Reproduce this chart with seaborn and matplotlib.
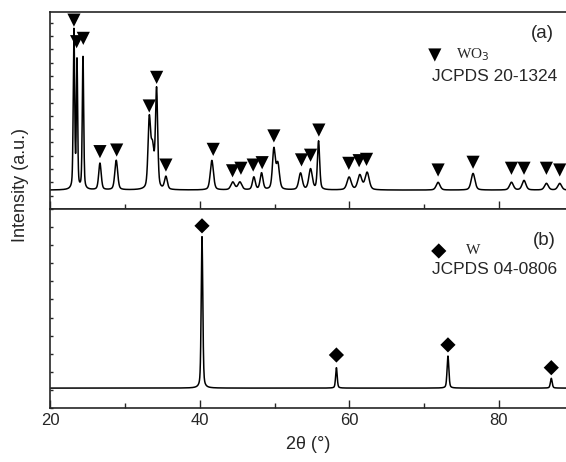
import numpy as np
import pandas as pd
import matplotlib
matplotlib.use("Agg")
import matplotlib.pyplot as plt
from matplotlib.ticker import MultipleLocator
import seaborn as sns

# (a) WO3 pattern: peak centres (2theta), heights above baseline, widths (FWHM)
wo3_pos = [23.14, 23.55, 24.35, 26.62, 28.8, 33.22, 33.65, 34.2, 35.45, 41.6,
           44.4, 45.35, 47.22, 48.25, 49.9, 50.43, 53.47, 54.81, 55.88, 59.97,
           61.4, 62.38, 71.88, 76.56, 81.7, 83.38, 86.38, 88.16]
wo3_height = [1190, 960, 1000, 200, 222, 500, 300, 740, 95, 222,
              58, 58, 95, 125, 300, 190, 125, 155, 365, 95,
              110, 130, 58, 125, 58, 72, 50, 50]
wo3_width = [0.22, 0.2, 0.22, 0.4, 0.45, 0.4, 0.5, 0.35, 0.45, 0.5,
             0.6, 0.6, 0.45, 0.45, 0.45, 0.5, 0.55, 0.55, 0.35, 0.65,
             0.65, 0.65, 0.6, 0.6, 0.6, 0.6, 0.6, 0.6]
wo3_base = 142

# triangle markers above the WO3 reflections
wo3_mark_pos = [23.14, 23.5, 24.39, 26.62, 28.86, 33.22, 34.21, 35.45, 41.78, 44.37,
                45.49, 47.13, 48.33, 49.9, 53.6, 54.81, 55.92, 59.93, 61.31, 62.3,
                71.88, 76.56, 81.7, 83.38, 86.38, 88.16]
wo3_mark_y = [1419, 1257, 1282, 431, 443, 774, 989, 330, 448, 287,
              306, 330, 348, 549, 369, 404, 593, 343, 363, 373,
              293, 351, 306, 306, 306, 293]

# (b) W pattern
w_pos = [40.28, 58.27, 73.2, 87.03]
w_height = [837, 113, 177, 54]
w_width = [0.25, 0.25, 0.28, 0.28]
w_base = 110
w_mark_y = [1007, 293, 349, 223]

x = np.arange(20, 89.01, 0.02)


def pattern(pos, height, width, base):
    y = np.full_like(x, float(base))
    for p, h, w in zip(pos, height, width):
        g = np.exp(-4 * np.log(2) * ((x - p) / w) ** 2)
        lo = 1 / (1 + 4 * ((x - p) / w) ** 2)
        y += h * (0.6 * g + 0.4 * lo)
    return y


df_a = pd.DataFrame({"two_theta": x, "intensity": pattern(wo3_pos, wo3_height, wo3_width, wo3_base)})
df_b = pd.DataFrame({"two_theta": x, "intensity": pattern(w_pos, w_height, w_width, w_base)})

sns.set_style("ticks")
plt.rcParams["font.family"] = ["Liberation Sans", "DejaVu Sans"]
plt.rcParams["axes.linewidth"] = 1.2

fig = plt.figure(figsize=(5.66, 4.62), dpi=100)
ax1 = fig.add_axes([0.0892, 0.5476, 0.9108, 0.4264])
ax2 = fig.add_axes([0.0892, 0.1169, 0.9108, 0.4307])

sns.lineplot(data=df_a, x="two_theta", y="intensity", ax=ax1, color="black",
             linewidth=1.1, estimator=None)
sns.lineplot(data=df_b, x="two_theta", y="intensity", ax=ax2, color="black",
             linewidth=1.1, estimator=None)

sns.scatterplot(x=wo3_mark_pos, y=wo3_mark_y, ax=ax1, marker="v", s=90,
                color="black", edgecolor="none", clip_on=False, zorder=5)
sns.scatterplot(x=w_pos, y=w_mark_y, ax=ax2, marker="D", s=60,
                color="black", edgecolor="none", clip_on=False, zorder=5)

for ax, top in [(ax1, 1480), (ax2, 1100)]:
    ax.set_xlim(20, 89)
    ax.set_ylim(0, top)
    ax.spines["right"].set_visible(False)
    ax.spines["top"].set_visible(True)
    ax.xaxis.set_major_locator(MultipleLocator(20))
    ax.xaxis.set_minor_locator(MultipleLocator(10))
    ax.yaxis.set_major_locator(MultipleLocator(100))
    ax.tick_params(axis="x", which="major", direction="in", length=6, width=1, labelsize=12)
    ax.tick_params(axis="x", which="minor", direction="in", length=3.5, width=1)
    ax.tick_params(axis="y", which="major", direction="in", length=2.5, width=1, labelleft=False)
    ax.set_xlabel("")
    ax.set_ylabel("")

ax1.tick_params(axis="x", labelbottom=False)

# panel annotations
ax1.text(85.9, 1322, "(a)", fontsize=13.5, ha="center", va="center")
ax1.scatter([71.44], [1157], marker="v", s=90, color="black", edgecolor="none")
ax1.text(74.3, 1157, "WO$_3$", fontsize=11, family="Liberation Serif", va="center")
ax1.text(71.0, 992, "JCPDS 20-1324", fontsize=12.5, va="center")

ax2.text(86.15, 928, "(b)", fontsize=13.5, ha="center", va="center")
ax2.scatter([71.97], [868], marker="D", s=60, color="black", edgecolor="none")
ax2.text(75.6, 868, "W", fontsize=11, family="Liberation Serif", va="center")
ax2.text(71.1, 763, "JCPDS 04-0806", fontsize=12.5, va="center")

ax2.set_xlabel("2θ (°)", fontsize=13, labelpad=6)
fig.text(0.036, 0.6, "Intensity (a.u.)", rotation=90, fontsize=13,
         ha="center", va="center")

fig.savefig("out.png", dpi=100)
